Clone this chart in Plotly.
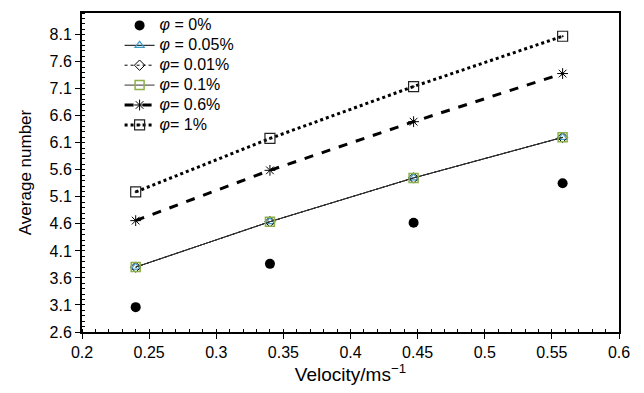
import plotly.graph_objects as go

velocity = [0.24, 0.34, 0.447, 0.558]
phi_0 = [3.06, 3.86, 4.62, 5.35]
phi_005 = [3.80, 4.64, 5.45, 6.20]
phi_001 = [3.80, 4.64, 5.45, 6.20]
phi_01 = [3.80, 4.64, 5.45, 6.20]
phi_06 = [4.66, 5.59, 6.49, 7.38]
phi_1 = [5.19, 6.18, 7.14, 8.07]

labels = ["<i>φ</i> = 0%", "<i>φ</i> = 0.05%", "<i>φ</i>= 0.01%",
          "<i>φ</i>= 0.1%", "<i>φ</i>= 0.6%", "<i>φ</i>= 1%"]
names = ['<span style="font-size:16px">' + s + '</span>' for s in labels]

FONT = "Liberation Sans, Arial, Helvetica"

fig = go.Figure()
fig.add_trace(go.Scatter(x=velocity, y=phi_0, mode="markers", name=names[0],
                         marker=dict(symbol="circle", size=10, color="black")))
fig.add_trace(go.Scatter(x=velocity, y=phi_005, mode="lines+markers", name=names[1],
                         line=dict(color="black", width=1),
                         marker=dict(symbol="triangle-up-open", size=8, color="#3d9cc8", line=dict(width=1.2))))
fig.add_trace(go.Scatter(x=velocity, y=phi_001, mode="lines+markers", name=names[2],
                         line=dict(color="black", width=1, dash="dot"),
                         marker=dict(symbol="diamond-open", size=8, color="black", line=dict(width=1))))
fig.add_trace(go.Scatter(x=velocity, y=phi_01, mode="lines+markers", name=names[3],
                         line=dict(color="#333333", width=1),
                         marker=dict(symbol="square-open", size=9, color="#8cb04a", line=dict(width=1.5))))
fig.add_trace(go.Scatter(x=velocity, y=phi_06, mode="lines+markers", name=names[4],
                         line=dict(color="black", width=3, dash="dash"),
                         marker=dict(symbol="asterisk-open", size=9, color="black", line=dict(width=1))))
fig.add_trace(go.Scatter(x=velocity, y=phi_1, mode="lines+markers", name=names[5],
                         line=dict(color="black", width=3, dash="dot"),
                         marker=dict(symbol="square-open-dot", size=10, color="#222222", line=dict(width=1.2))))

axis_common = dict(showline=True, linecolor="black", linewidth=2, mirror=True,
                   showgrid=False, zeroline=False, ticks="outside", ticklen=5,
                   tickcolor="black", tickwidth=1,
                   tickfont=dict(family=FONT, size=16, color="black"))

fig.update_xaxes(range=[0.2, 0.6], tick0=0.2, dtick=0.05,
                 minor=dict(ticks="inside", dtick=0.01, ticklen=3, tickcolor="black"),
                 title=dict(text="Velocity/ms<sup>−1</sup>", font=dict(family=FONT, size=19, color="black"), standoff=6),
                 **axis_common)
fig.update_yaxes(range=[2.6, 8.5], tick0=2.6, dtick=0.5,
                 minor=dict(ticks="inside", dtick=0.1, ticklen=3, tickcolor="black"),
                 title=dict(text="Average number", font=dict(family=FONT, size=17, color="black"), standoff=14),
                 **axis_common)

fig.update_layout(
    width=636, height=385,
    margin=dict(l=74, r=25, t=2, b=61),
    plot_bgcolor="white", paper_bgcolor="white",
    font=dict(family=FONT, color="black"),
    legend=dict(x=0.07, y=1.008, xanchor="left", yanchor="top",
                bgcolor="rgba(0,0,0,0)", borderwidth=0,
                font=dict(family=FONT, size=13, color="black"),
                tracegroupgap=0, itemwidth=30),
    showlegend=True,
)

fig.write_html("out.html")
